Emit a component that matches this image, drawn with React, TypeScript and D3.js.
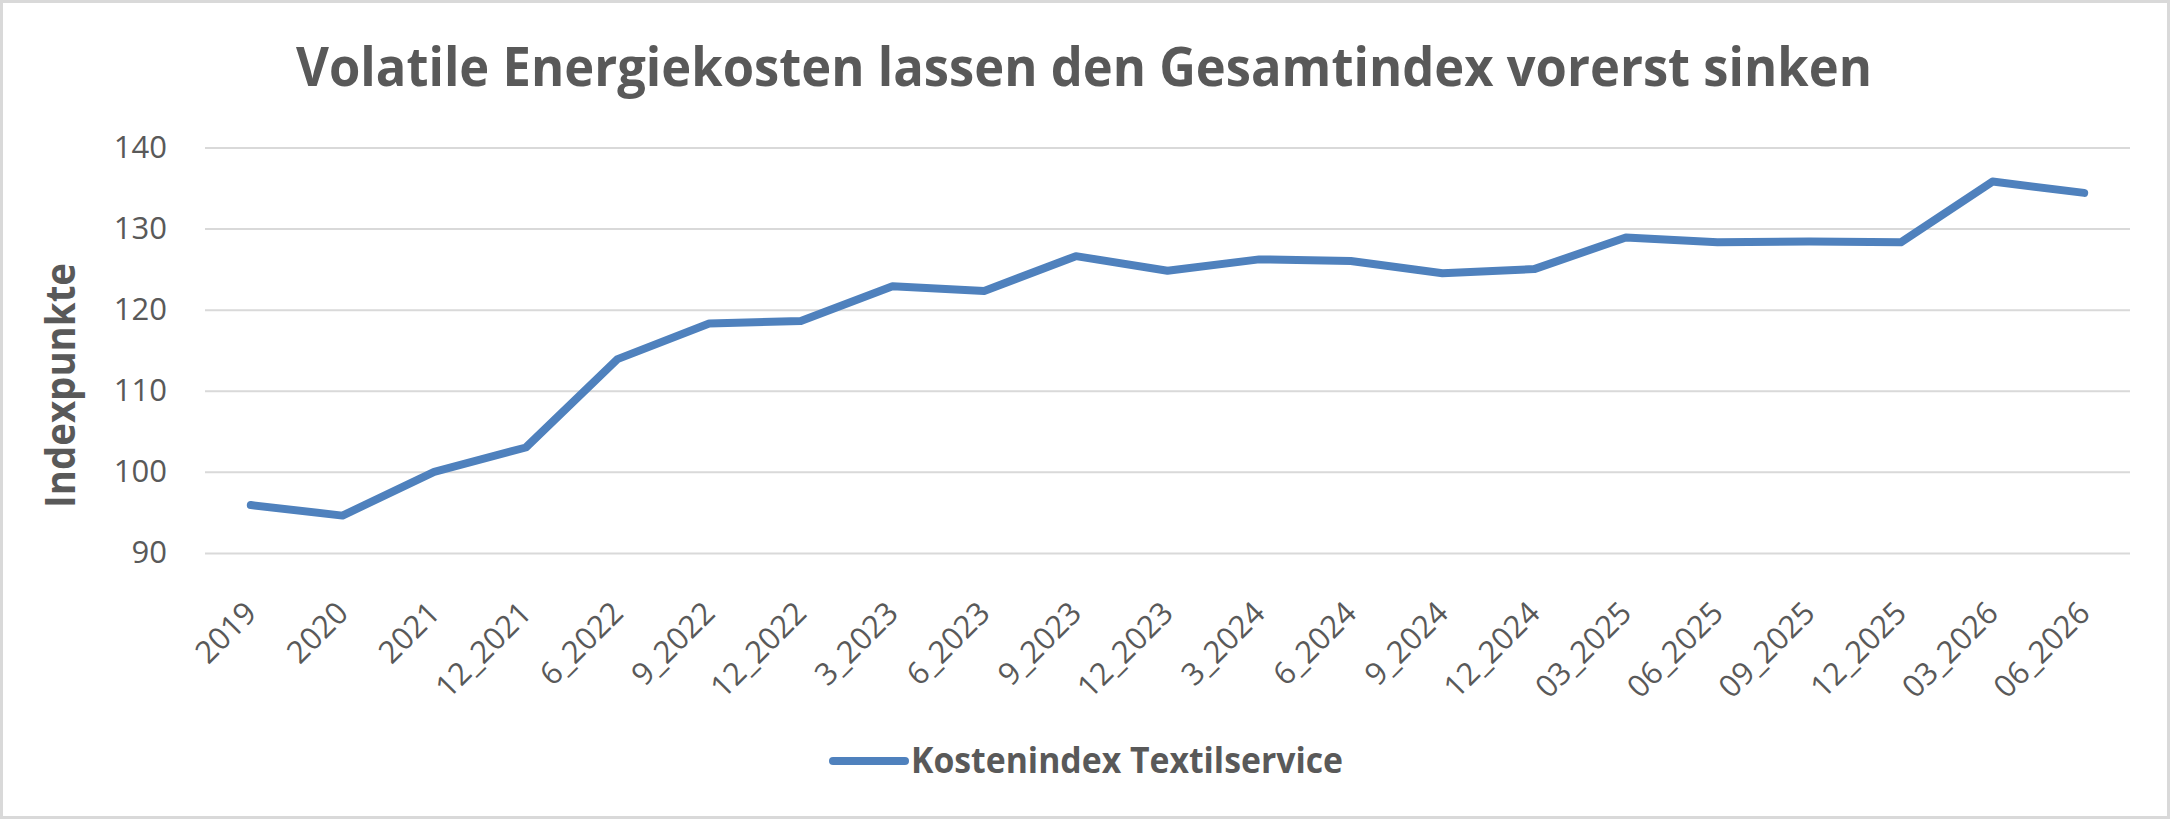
import React, { useRef, useEffect } from "react";
import * as d3 from "d3";

const categories = [
  "2019", "2020", "2021", "12_2021", "6_2022", "9_2022", "12_2022",
  "3_2023", "6_2023", "9_2023", "12_2023", "3_2024", "6_2024", "9_2024",
  "12_2024", "03_2025", "06_2025", "09_2025", "12_2025", "03_2026", "06_2026",
];
const indexValues = [
  95.9, 94.6, 100.0, 103.0, 113.9, 118.3, 118.6,
  122.9, 122.3, 126.6, 124.8, 126.2, 126.0, 124.5,
  125.0, 128.9, 128.3, 128.4, 128.3, 135.8, 134.4,
];
const yTicks = [90, 100, 110, 120, 130, 140];
const seriesName = "Kostenindex Textilservice";
const chartTitle = "Volatile Energiekosten lassen den Gesamtindex vorerst sinken";
const yAxisTitle = "Indexpunkte";

const W = 2170;
const H = 819;
const FONT = "'Open Sans', 'Noto Sans', sans-serif";
const GRAY = "#595959";
const LINE = "#4f81bd";

function App() {
  const ref = useRef<SVGSVGElement | null>(null);

  useEffect(() => {
    const svg = d3.select(ref.current);
    svg.selectAll("*").remove();

    const left = 205, right = 2130, top = 147.5, bottom = 552.9;

    const x = d3.scalePoint<string>().domain(categories).range([left, right]).padding(0.5);
    const y = d3.scaleLinear().domain([90, 140]).range([bottom, top]);

    // background + outer border
    svg.append("rect")
      .attr("x", 1.5).attr("y", 1.5)
      .attr("width", W - 3).attr("height", H - 3)
      .attr("fill", "#fff").attr("stroke", "#d9d9d9").attr("stroke-width", 3);

    // title
    svg.append("text")
      .attr("x", 296).attr("y", 86)
      .attr("font-family", FONT).attr("font-weight", 700).attr("font-size", 53)
      .attr("fill", GRAY)
      .attr("textLength", 1576).attr("lengthAdjust", "spacingAndGlyphs")
      .text(chartTitle);

    // y axis with gridlines
    svg.append("g")
      .attr("transform", `translate(${left},0)`)
      .call(d3.axisLeft(y).tickValues(yTicks).tickSize(-(right - left)).tickPadding(38))
      .call((g) => g.select(".domain").remove())
      .call((g) => g.selectAll(".tick line").attr("stroke", "#d9d9d9").attr("stroke-width", 2))
      .call((g) =>
        g.selectAll(".tick text")
          .attr("fill", GRAY).attr("font-size", 31).attr("font-family", FONT)
      );

    // y axis title
    svg.append("text")
      .attr("transform", "translate(75,385.5) rotate(-90)")
      .attr("text-anchor", "middle")
      .attr("font-family", FONT).attr("font-weight", 700).attr("font-size", 42)
      .attr("fill", GRAY)
      .attr("textLength", 245).attr("lengthAdjust", "spacingAndGlyphs")
      .text(yAxisTitle);

    // x axis labels, rotated
    svg.append("g")
      .attr("transform", "translate(0,615)")
      .call(d3.axisBottom(x).tickSize(0))
      .call((g) => g.select(".domain").remove())
      .call((g) =>
        g.selectAll(".tick text")
          .attr("x", 0).attr("y", 0).attr("dy", 0)
          .attr("transform", "translate(7,0) rotate(-45)")
          .attr("text-anchor", "end")
          .attr("fill", GRAY).attr("font-size", 31).attr("font-family", FONT)
      );

    // series line
    const line = d3.line<number>()
      .x((_, i) => x(categories[i]) as number)
      .y((d) => y(d));

    svg.append("path")
      .datum(indexValues)
      .attr("d", line)
      .attr("fill", "none")
      .attr("stroke", LINE)
      .attr("stroke-width", 8)
      .attr("stroke-linejoin", "round")
      .attr("stroke-linecap", "round");

    // legend
    const lg = svg.append("g").attr("transform", "translate(833,761)");
    lg.append("line")
      .attr("x1", 0).attr("x2", 72).attr("y1", 0).attr("y2", 0)
      .attr("stroke", LINE).attr("stroke-width", 8).attr("stroke-linecap", "round");
    lg.append("text")
      .attr("x", 78).attr("y", 12)
      .attr("font-family", FONT).attr("font-weight", 700).attr("font-size", 36)
      .attr("fill", GRAY)
      .attr("textLength", 432).attr("lengthAdjust", "spacingAndGlyphs")
      .text(seriesName);
  }, []);

  return (
    <svg
      ref={ref}
      width={W}
      height={H}
      style={{ position: "absolute", left: 0, top: 0, display: "block" }}
    />
  );
}

export default App;
